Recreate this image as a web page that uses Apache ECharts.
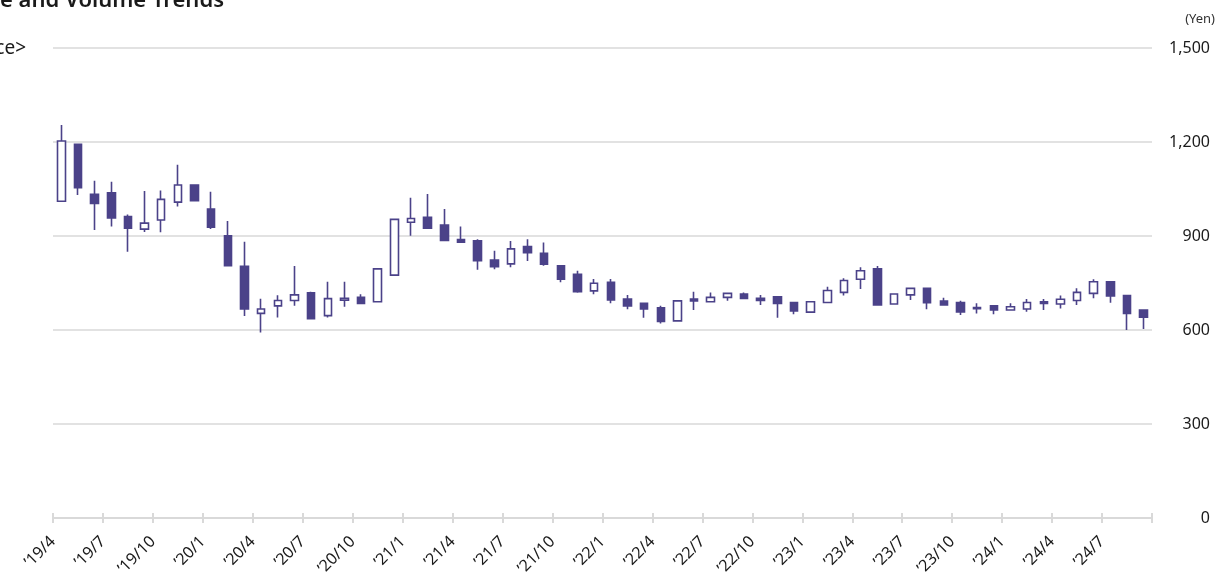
<!DOCTYPE html>
<html>
<head>
<meta charset="utf-8">
<script src="https://cdn.jsdelivr.net/npm/echarts@6/dist/echarts.min.js"></script>
<style>
html,body{margin:0;padding:0;background:#fff;}
#c{width:1218px;height:581px;}
</style>
</head>
<body>
<div id="c"></div>
<script>
// Monthly periods, 2019/4 .. 2024/9
const months = [
  "2019/4","2019/5","2019/6","2019/7","2019/8","2019/9","2019/10","2019/11","2019/12",
  "2020/1","2020/2","2020/3","2020/4","2020/5","2020/6","2020/7","2020/8","2020/9","2020/10","2020/11","2020/12",
  "2021/1","2021/2","2021/3","2021/4","2021/5","2021/6","2021/7","2021/8","2021/9","2021/10","2021/11","2021/12",
  "2022/1","2022/2","2022/3","2022/4","2022/5","2022/6","2022/7","2022/8","2022/9","2022/10","2022/11","2022/12",
  "2023/1","2023/2","2023/3","2023/4","2023/5","2023/6","2023/7","2023/8","2023/9","2023/10","2023/11","2023/12",
  "2024/1","2024/2","2024/3","2024/4","2024/5","2024/6","2024/7","2024/8","2024/9"
];
const opens  = [1011,1193,1033,1038,962,922,951,1008,1063,986,901,803,653,677,694,719,646,695,704,690,775,944,960,935,889,885,823,811,866,845,805,778,725,752,699,685,671,629,699,690,704,715,701,706,688,657,688,720,762,795,683,712,733,692,688,672,677,664,667,685,683,694,717,754,710,664];
const closes = [1203,1054,1004,958,925,941,1017,1063,1013,928,805,667,667,694,712,636,700,701,685,795,953,956,925,886,880,821,802,859,847,810,762,722,749,696,677,667,627,693,693,704,717,701,694,685,661,690,726,758,789,680,715,733,687,680,658,668,664,674,688,690,698,720,754,709,653,641];
const lows   = [1010,1031,919,930,850,913,912,994,1013,922,805,645,592,640,677,636,640,674,682,690,775,901,925,886,880,792,794,800,820,805,752,719,714,685,666,639,621,629,664,688,693,701,680,639,650,655,685,710,731,680,683,696,666,680,648,653,650,664,658,664,669,680,701,687,600,603];
const highs  = [1254,1193,1076,1073,969,1044,1045,1127,1063,1041,948,882,700,711,804,722,754,754,714,795,956,1022,1034,986,930,890,853,884,890,879,805,789,763,763,712,688,677,693,722,720,720,720,712,706,688,690,738,765,800,804,715,733,733,703,693,685,677,685,699,699,710,733,762,756,710,664];
// Quarterly tick labels (every 3 months)
const tickLabels = ["’19/4","’19/7","’19/10","’20/1","’20/4","’20/7","’20/10","’21/1","’21/4","’21/7","’21/10","’22/1","’22/4","’22/7","’22/10","’23/1","’23/4","’23/7","’23/10","’24/1","’24/4","’24/7"];
const yTicks = [0,300,600,900,1200,1500];

const PURPLE = '#4b4289';
const FONT = '"Noto Sans", "Open Sans", sans-serif';
const ohlc = months.map((m,i)=>[opens[i],closes[i],lows[i],highs[i]]);

const chart = echarts.init(document.getElementById('c'), null, {renderer:'canvas'});
chart.setOption({
  animation:false,
  backgroundColor:'#fff',
  textStyle:{fontFamily:FONT},
  grid:{left:53,right:66,top:48,bottom:63,containLabel:false,outerBoundsMode:'none'},
  graphic:[
    {type:'text', x:224, y:12, style:{text:'Stock Price and Volume Trends', fontSize:22, fontWeight:600, fill:'#1a1a1a', fontFamily:FONT, align:'right', verticalAlign:'bottom'}},
    {type:'text', x:26, y:49, style:{text:'<Stock Price>', fontSize:19, fill:'#1a1a1a', fontFamily:FONT, align:'right', verticalAlign:'middle'}},
    {type:'text', x:1215, y:19, style:{text:'(Yen)', fontSize:13, fill:'#333', fontFamily:FONT, align:'right', verticalAlign:'middle'}}
  ],
  xAxis:[
    {type:'category', data:months, boundaryGap:true, show:false},
    {type:'value', min:0, max:months.length, interval:3, position:'bottom',
      axisLine:{show:true, lineStyle:{color:'#d9d9d9', width:2}},
      axisTick:{show:true, length:5, lineStyle:{color:'#d9d9d9', width:2}},
      splitLine:{show:false},
      axisLabel:{rotate:45, margin:21, fontSize:16, color:'#1a1a1a', fontFamily:FONT,
        showMaxLabel:true, showMinLabel:true,
        formatter:function(v){const k=Math.round(v/3); return tickLabels[k]!==undefined?tickLabels[k]:'';}}
    },
    {type:'value', min:0, max:months.length, interval:3, position:'bottom',
      axisLine:{show:false},
      axisTick:{show:true, inside:true, length:5, lineStyle:{color:'#d9d9d9', width:2}},
      axisLabel:{show:false}, splitLine:{show:false}
    }
  ],
  yAxis:{
    type:'value', position:'right', min:yTicks[0], max:yTicks[yTicks.length-1], interval:300,
    axisLine:{show:false}, axisTick:{show:false},
    splitLine:{show:true, lineStyle:{color:'#d9d9d9', width:1.5}},
    axisLabel:{margin:58, align:'right', fontSize:16, color:'#1a1a1a', fontFamily:FONT,
      formatter:function(v){return v.toLocaleString('en-US');}}
  },
  series:[{
    type:'candlestick', xAxisIndex:0, yAxisIndex:0,
    data:ohlc, barWidth:8,
    itemStyle:{color:'#ffffff', color0:PURPLE, borderColor:PURPLE, borderColor0:PURPLE, borderWidth:1.6}
  }]
});
</script>
</body>
</html>
